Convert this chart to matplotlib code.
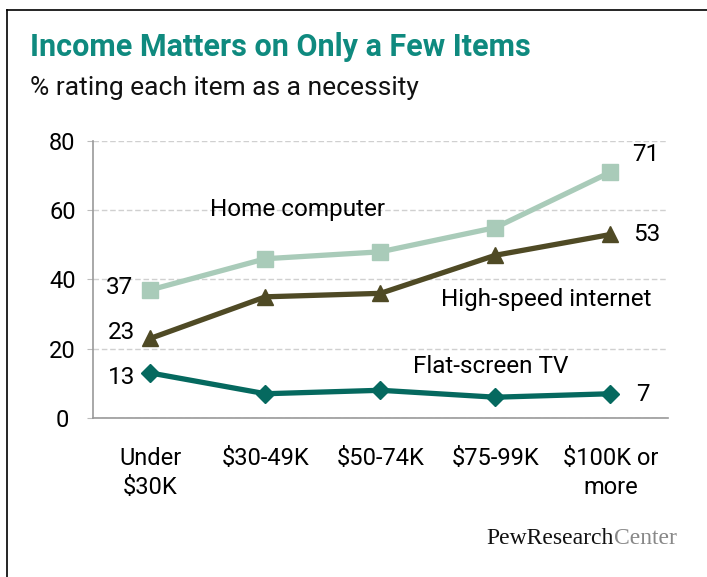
import matplotlib
matplotlib.use("Agg")
import matplotlib.pyplot as plt

categories = ["Under\n$30K", "$30-49K", "$50-74K", "$75-99K", "$100K or\nmore"]
home_computer = [37, 46, 48, 55, 71]
high_speed = [23, 35, 36, 47, 53]
flat_screen = [13, 7, 8, 6, 7]
yticks = [0, 20, 40, 60, 80]

plt.rcParams["font.family"] = ["Roboto", "DejaVu Sans"]

fig = plt.figure(figsize=(7.07, 5.77), dpi=100)
ax = fig.add_axes([0.1315, 0.2756, 0.8133, 0.48])

x = list(range(len(categories)))
c_home = "#a9cbb9"
c_hs = "#4f4a25"
c_tv = "#05695f"
ax.plot(x, home_computer, color=c_home, lw=3.8, marker="s", ms=11, zorder=3)
ax.plot(x, high_speed, color=c_hs, lw=3.8, marker="^", ms=11, zorder=3)
ax.plot(x, flat_screen, color=c_tv, lw=3.8, marker="D", ms=9, zorder=3)

ax.set_xlim(-0.5, len(categories) - 0.5)
ax.set_ylim(0, 80)
ax.set_yticks(yticks)
ax.set_yticklabels([str(v) for v in yticks], fontsize=17)
ax.set_xticks(x)
ax.set_xticklabels(categories, fontsize=17, linespacing=1.3)
ax.tick_params(axis="x", length=0, pad=21)
ax.tick_params(axis="y", length=4, color="#bbbbbb", pad=18)
for tl in ax.get_yticklabels():
    tl.set_horizontalalignment("center")
ax.grid(axis="y", color="#d0d0d0", ls=(0, (4, 2)), lw=1)
ax.set_axisbelow(True)
for s in ["top", "right"]:
    ax.spines[s].set_visible(False)
ax.spines["left"].set_color("#999999")
ax.spines["bottom"].set_color("#999999")
ax.spines["left"].set_linewidth(1.2)
ax.spines["bottom"].set_linewidth(1.2)

fs = 17.5
# value labels
ax.annotate(str(home_computer[0]), (x[0], home_computer[0]), xytext=(-22, 2),
            textcoords="offset points", ha="center", va="center", fontsize=fs)
ax.annotate(str(high_speed[0]), (x[0], high_speed[0]), xytext=(-20.5, 4),
            textcoords="offset points", ha="center", va="center", fontsize=fs)
ax.annotate(str(flat_screen[0]), (x[0], flat_screen[0]), xytext=(-20.5, -3.6),
            textcoords="offset points", ha="center", va="center", fontsize=fs)
ax.annotate(str(home_computer[-1]), (x[-1], home_computer[-1]), xytext=(25.5, 12.5),
            textcoords="offset points", ha="center", va="center", fontsize=fs)
ax.annotate(str(high_speed[-1]), (x[-1], high_speed[-1]), xytext=(26, 0),
            textcoords="offset points", ha="center", va="center", fontsize=fs)
ax.annotate(str(flat_screen[-1]), (x[-1], flat_screen[-1]), xytext=(23, -0.5),
            textcoords="offset points", ha="center", va="center", fontsize=fs)

# series labels
ax.text(1.28, 60.2, "Home computer", ha="center", va="center", fontsize=fs)
ax.text(3.44, 34.2, "High-speed internet", ha="center", va="center", fontsize=fs)
ax.text(2.96, 15.0, "Flat-screen TV", ha="center", va="center", fontsize=fs)

# titles
fig.text(30 / 707, 1 - 47 / 577, "Income Matters on Only a Few Items", color="#0f8a7f",
         fontsize=22, fontweight="bold", ha="left", va="center")
fig.text(30 / 707, 1 - 88 / 577, "% rating each item as a necessity", color="#111111",
         fontsize=19, ha="left", va="center")

# logo
t1 = fig.text(677 / 707, 1 - 539 / 577, "Center", color="#888888", fontsize=17,
              family="Liberation Serif", ha="right", va="center")
fig.canvas.draw()
bb = t1.get_window_extent()
fig.text(bb.x0 / fig.bbox.width, 1 - 539 / 577, "PewResearch", color="#111111", fontsize=17,
         family="Liberation Serif", ha="right", va="center")

# frame lines
fig.add_artist(plt.Line2D([7 / 707, 7 / 707], [0, 1 - 10 / 577], transform=fig.transFigure,
                          color="black", lw=1.2))
fig.add_artist(plt.Line2D([7 / 707, 1], [1 - 10 / 577, 1 - 10 / 577], transform=fig.transFigure,
                          color="black", lw=1.2))

fig.savefig("out.png", dpi=100)
